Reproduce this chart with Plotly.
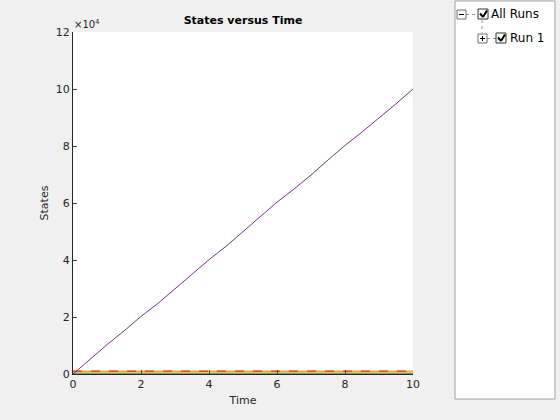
import plotly.graph_objects as go

time = [0, 0.5, 1, 1.5, 2, 2.5, 3, 3.5, 4, 4.5, 5, 5.5, 6, 6.5, 7, 7.5, 8, 8.5, 9, 9.5, 10]
state_purple = [0, 5200, 10300, 15100, 20200, 24800, 29900, 35200, 40100, 44800, 49900, 55000, 60300, 64900, 69800, 75100, 80200, 84900, 89700, 94800, 100000]
state_blue = [0] * len(time)
state_orange = [450] * len(time)
state_red = [1000] * len(time)
state_yellow = [1000] * len(time)
y_ticks = [0, 20000, 40000, 60000, 80000, 100000, 120000]
y_tick_labels = ["0", "2", "4", "6", "8", "10", "12"]
x_ticks = [0, 2, 4, 6, 8, 10]

W, H = 560, 420
L, R, T, B = 73, 413, 32, 374


def px(x):
    return (x - L) / (R - L)


def py(y):
    return (B - y) / (B - T)


fig = go.Figure()
fig.add_trace(go.Scatter(x=time, y=state_blue, mode="lines", line=dict(color="#0072BD", width=1.5)))
fig.add_trace(go.Scatter(x=time, y=state_orange, mode="lines", line=dict(color="#EDB120", width=1)))
fig.add_trace(go.Scatter(x=time, y=state_yellow, mode="lines", line=dict(color="#EDB120", width=1.5)))
fig.add_trace(go.Scatter(x=time, y=state_red, mode="lines", line=dict(color="#D95319", width=1.5, dash="dash")))
fig.add_trace(go.Scatter(x=time, y=state_purple, mode="lines", line=dict(color="#7E2F8E", width=1)))

font = "DejaVu Sans"
fig.update_layout(
    width=W, height=H,
    margin=dict(l=L, r=W - R, t=T, b=H - B, pad=0),
    paper_bgcolor="#f0f0f0", plot_bgcolor="white",
    showlegend=False,
    font=dict(family=font, size=11, color="#262626"),
    title=dict(text="<b>States versus Time</b>", x=(L + R) / 2 / W, xanchor="center",
               y=1 - 20 / H, yanchor="middle", font=dict(size=11, color="black")),
    xaxis=dict(range=[0, 10], tickvals=x_ticks, ticks="inside", ticklen=4, showgrid=False,
               zeroline=False, showline=True, linecolor="#262626", linewidth=1,
               title=dict(text="Time", font=dict(size=11), standoff=6), mirror=False),
    yaxis=dict(range=[0, 120000], tickvals=y_ticks, ticktext=y_tick_labels, ticks="inside",
               ticklen=4, showgrid=False, zeroline=False, showline=True, linecolor="#262626",
               linewidth=1, title=dict(text="States", font=dict(size=11), standoff=4)),
)

fig.add_annotation(xref="paper", yref="paper", x=px(72), y=py(24), text="×10<sup>4</sup>",
                   showarrow=False, xanchor="left", yanchor="middle", font=dict(size=10, color="#262626"))

shapes = []
# legend box
shapes.append(dict(type="rect", xref="paper", yref="paper", x0=px(455), x1=px(555), y0=py(399), y1=py(1),
                   fillcolor="white", line=dict(color="#a0a0a0", width=1), layer="above"))


def box(x0, y0, x1, y1, col="#707070"):
    shapes.append(dict(type="rect", xref="paper", yref="paper", x0=px(x0), x1=px(x1), y0=py(y1), y1=py(y0),
                       fillcolor="white", line=dict(color=col, width=1), layer="above"))


def seg(x0, y0, x1, y1, col="black", w=1, dash="solid"):
    shapes.append(dict(type="line", xref="paper", yref="paper", x0=px(x0), x1=px(x1), y0=py(y0), y1=py(y1),
                       line=dict(color=col, width=w, dash=dash), layer="above"))


# row 1: minus box
box(457, 10, 466, 19)
seg(459, 14.5, 464, 14.5)
seg(466, 14.5, 478, 14.5, "#909090", 1, "dot")
box(478, 9, 488, 19, "#303030")
seg(480, 13.5, 483, 17, "black", 2)
seg(483, 17, 487, 10.5, "black", 2)
# vertical dotted connector
seg(482, 20, 482, 33, "#909090", 1, "dot")
# row 2: plus box
box(478, 34, 487, 43)
seg(480, 38.5, 485, 38.5)
seg(482.5, 36, 482.5, 41)
seg(487, 38.5, 496, 38.5, "#909090", 1, "dot")
box(496, 33, 506, 43, "#303030")
seg(498, 37.5, 501, 41, "black", 2)
seg(501, 41, 505, 34.5, "black", 2)
fig.update_layout(shapes=shapes)

fig.add_annotation(xref="paper", yref="paper", x=px(489), y=py(14), text="All Runs", showarrow=False,
                   xanchor="left", yanchor="middle", font=dict(size=12, color="black"))
fig.add_annotation(xref="paper", yref="paper", x=px(508), y=py(38), text="Run 1", showarrow=False,
                   xanchor="left", yanchor="middle", font=dict(size=12, color="black"))

fig.write_html("out.html", config={"displayModeBar": False})

with open("out.html", "r", encoding="utf-8") as f:
    html = f.read()
html = html.replace("<head>", "<head><style>html,body{margin:0;padding:0;overflow:hidden;}</style>", 1)
with open("out.html", "w", encoding="utf-8") as f:
    f.write(html)
